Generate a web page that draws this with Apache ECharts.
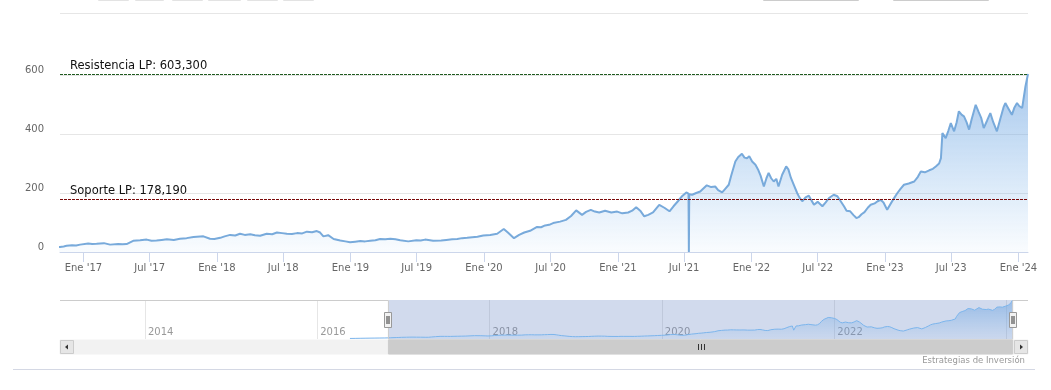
<!DOCTYPE html>
<html><head><meta charset="utf-8">
<script src="https://cdn.jsdelivr.net/npm/echarts@6/dist/echarts.min.js"></script>
<style>html,body{margin:0;padding:0;background:#fff}#c{width:1051px;height:390px}</style>
</head><body><div id="c"></div>
<script>
// ---------------- DATA ----------------
const dates = ['2016-05-19','2016-06-10','2016-07-01','2016-07-22','2016-08-12','2016-09-02','2016-09-23','2016-10-14','2016-10-29','2016-11-08','2016-11-16','2016-12-01','2016-12-12','2016-12-23',
'2017-01-14','2017-01-25','2017-02-06','2017-02-26','2017-03-15','2017-04-06','2017-04-18','2017-04-29','2017-05-17','2017-06-05','2017-06-23','2017-07-06','2017-07-20','2017-08-03','2017-08-17','2017-09-05','2017-09-22','2017-10-10','2017-10-29','2017-11-25','2017-12-13','2017-12-25',
'2018-01-10','2018-01-22','2018-02-06','2018-02-20','2018-03-05','2018-03-18','2018-04-02','2018-04-15','2018-04-29','2018-05-17','2018-06-01','2018-06-14','2018-06-28','2018-07-11','2018-07-25','2018-08-08','2018-08-22','2018-09-04','2018-09-18','2018-10-01','2018-10-10','2018-10-19','2018-11-01','2018-11-16','2018-12-04','2018-12-18','2018-12-31',
'2019-01-14','2019-01-28','2019-02-10','2019-02-24','2019-03-10','2019-03-23','2019-04-06','2019-04-20','2019-05-04','2019-05-17','2019-06-08','2019-06-30','2019-07-12','2019-07-24','2019-08-15','2019-09-06','2019-09-20','2019-10-06','2019-10-20','2019-11-02','2019-11-16','2019-11-30','2019-12-14','2019-12-30',
'2020-01-18','2020-02-06','2020-02-24','2020-03-07','2020-03-23','2020-04-06','2020-04-20','2020-05-06','2020-05-25','2020-06-05','2020-06-16','2020-06-27','2020-07-08','2020-07-27','2020-08-12','2020-08-26','2020-09-09','2020-09-25','2020-10-06','2020-10-19','2020-10-30','2020-11-11','2020-11-27','2020-12-14','2020-12-30',
'2021-01-13','2021-01-29','2021-02-09','2021-02-20','2021-03-03','2021-03-14','2021-03-25','2021-04-07','2021-04-24','2021-05-08','2021-05-22','2021-06-02','2021-06-14','2021-06-26','2021-07-07','2021-07-13','2021-07-14','2021-07-15','2021-07-23','2021-08-03','2021-08-14','2021-09-01','2021-09-13','2021-09-24','2021-10-02','2021-10-13','2021-10-22','2021-10-31','2021-11-07','2021-11-18','2021-11-26','2021-12-06','2021-12-13','2021-12-20','2021-12-26',
'2022-01-03','2022-01-12','2022-01-19','2022-01-26','2022-02-04','2022-02-11','2022-02-17','2022-02-24','2022-03-03','2022-03-10','2022-03-16','2022-03-26','2022-04-06','2022-04-12','2022-04-19','2022-04-26','2022-05-06','2022-05-12','2022-05-20','2022-05-29','2022-06-07','2022-06-14','2022-06-21','2022-07-01','2022-07-14','2022-07-23','2022-08-01','2022-08-14','2022-08-24','2022-09-02','2022-09-11','2022-09-18','2022-09-28','2022-10-07','2022-10-15','2022-10-21','2022-10-29','2022-11-06','2022-11-15','2022-11-23','2022-12-04','2022-12-12','2022-12-20','2022-12-28',
'2023-01-07','2023-01-12','2023-01-22','2023-02-04','2023-02-13','2023-02-22','2023-03-07','2023-03-22','2023-04-01','2023-04-09','2023-04-20','2023-05-02','2023-05-12','2023-05-20','2023-05-29','2023-06-03','2023-06-07','2023-06-16','2023-06-23','2023-06-30','2023-07-09','2023-07-16','2023-07-22','2023-07-30','2023-08-05','2023-08-12','2023-08-19','2023-08-26','2023-09-06','2023-09-14','2023-09-21','2023-09-28','2023-10-07','2023-10-16','2023-10-24','2023-11-03','2023-11-12','2023-11-21','2023-11-26','2023-12-05','2023-12-14','2023-12-21','2023-12-28',
'2024-01-03','2024-01-11','2024-01-20','2024-01-27'];
const values = [8,9,11,12,13,14,15,16,17,19,21,23,22,25,
29,27,28,30,25,27,26,27,38,40,42,38,39,41,43,41,45,47,51,53,45,44,
48,53,58,56,62,58,60,57,55,62,60,66,64,62,61,64,63,69,67,71,66,53,57,44,39,36,33,
35,37,36,38,40,44,43,45,43,40,36,40,39,42,38,39,41,43,44,47,48,50,52,56,
58,62,78,65,47,58,66,72,85,84,90,92,98,103,109,122,141,126,136,143,137,134,140,134,137,
131,134,140,152,140,121,126,134,160,150,138,155,172,190,202,198,0,196,194,200,205,226,220,222,210,202,215,228,260,307,322,333,320,318,325,
307,296,280,259,222,250,268,250,239,248,222,262,290,280,251,230,200,185,172,185,191,175,160,170,155,168,183,194,189,172,155,140,138,125,115,118,128,135,150,160,165,172,177,168,
143,146,175,200,215,228,232,239,255,273,270,277,282,290,300,318,403,386,410,437,409,440,477,465,460,440,415,450,499,475,455,420,445,471,440,409,450,490,505,485,465,490,505,
495,488,561,603.3];

const mainTickDates = ['2017-01-01','2017-07-01','2018-01-01','2018-07-01','2019-01-01','2019-07-01','2020-01-01','2020-07-01','2021-01-01','2021-07-01','2022-01-01','2022-07-01','2023-01-01','2023-07-01','2024-01-01'];
const mainTickLabels = ["Ene '17","Jul '17","Ene '18","Jul '18","Ene '19","Jul '19","Ene '20","Jul '20","Ene '21","Jul '21","Ene '22","Jul '22","Ene '23","Jul '23","Ene '24"];
const yTicks = [0, 200, 400, 600];
const navTickDates = ['2014-01-01','2016-01-01','2018-01-01','2020-01-01','2022-01-01','2024-01-01'];
const navTickLabels = ['2014','2016','2018','2020','2022',''];
const levelNames = ['Resistencia LP','Soporte LP'];
const levelValues = [603.3, 178.19];
const mainRange = ['2016-10-29','2024-01-27'];
const navRange = ['2013-01-06','2024-04-01'];
const creditText = 'Estrategias de Inversión';

// ---------------- CHART ----------------
function ts(s){const p=s.split('-').map(Number);return new Date(p[0],p[1]-1,p[2]).getTime();}
const FONT = 'DejaVu Sans';
const levelColors = ['#1f5a1f','#7a0a0a'];
const series = dates.map((d,i)=>[ts(d), values[i]]);
const navSeries = dates.map((d,i)=>{
  const a = values[Math.max(i-1,0)], b = values[i], c = values[Math.min(i+1,values.length-1)];
  return [ts(d), (a+b+c)/3];
});
const mainTicks = mainTickDates.map(ts);
const navTicks = navTickDates.map(ts);
const L = 60, R = 23, NAV_TOP = 300, NAV_H = 39;
const Y_MAX = 620, PX_PER = 177/600;
const MAIN_H = Y_MAX * PX_PER, MAIN_TOP = 252 - MAIN_H;

const chart = echarts.init(document.getElementById('c'), null, {renderer:'canvas'});
const areaGrad = new echarts.graphic.LinearGradient(0,0,0,1,[
  {offset:0,color:'rgba(112,165,224,0.9)'},
  {offset:1,color:'rgba(124,181,236,0.06)'}]);
const navGrad = new echarts.graphic.LinearGradient(0,0,0,1,[
  {offset:0,color:'rgba(112,165,224,0.85)'},
  {offset:1,color:'rgba(124,181,236,0.1)'}]);

chart.setOption({
  animation:false,
  textStyle:{fontFamily:FONT},
  grid:[
    {left:L, right:R, top:MAIN_TOP, height:MAIN_H},
    {left:L, right:R, top:NAV_TOP, height:NAV_H}
  ],
  xAxis:[
    {type:'value', gridIndex:0, min:ts(mainRange[0]), max:ts(mainRange[1]),
     axisLine:{show:true, lineStyle:{color:'#ccd6eb'}},
     axisTick:{show:true, length:10, customValues:mainTicks, lineStyle:{color:'#ccd6eb'}},
     axisLabel:{customValues:mainTicks, color:'#666', fontSize:10, margin:11, fontFamily:FONT,
       formatter:(v)=>{const i=mainTicks.indexOf(v);return i>=0?mainTickLabels[i]:'';}},
     splitLine:{show:false}},
    {type:'value', gridIndex:1, min:ts(navRange[0]), max:ts(navRange[1]),
     axisLine:{show:false}, axisTick:{show:false, customValues:navTicks},
     axisLabel:{customValues:navTicks, inside:true, color:'#999', fontSize:10, margin:2, align:'left', padding:[0,0,0,3], fontFamily:FONT,
       formatter:(v)=>{const i=navTicks.indexOf(v);return i>=0?navTickLabels[i]:'';}},
     splitLine:{show:true, lineStyle:{color:'#e6e6e6'}}}
  ],
  yAxis:[
    {type:'value', gridIndex:0, min:0, max:Y_MAX, interval:200,
     axisLine:{show:false}, axisTick:{show:false, customValues:yTicks},
     axisLabel:{customValues:yTicks, color:'#666', fontSize:10, margin:16, verticalAlign:'bottom', fontFamily:FONT},
     splitLine:{lineStyle:{color:'#e6e6e6'}}},
    {type:'value', gridIndex:1, min:0, max:'dataMax', show:false, splitLine:{show:false}}
  ],
  series:[
    {type:'line', xAxisIndex:0, yAxisIndex:0, data:series, showSymbol:false, symbol:'none',
     lineStyle:{color:'#78aadb', width:2}, areaStyle:{color:areaGrad}, z:3,
     markLine:{silent:true, symbol:['none','none'], animation:false,
       data: levelValues.map((v,i)=>({yAxis:v,
         lineStyle:{color:levelColors[i], type:[3,1], width:1},
         label:{show:true, position:'insideStartTop', distance:[10,2], color:'#111', fontSize:11.5, fontFamily:FONT,
           formatter: levelNames[i] + ': ' + v.toFixed(3).replace('.', ',')}}))}},
    {type:'line', xAxisIndex:1, yAxisIndex:1, data:navSeries, showSymbol:false, symbol:'none',
     lineStyle:{color:'#7cb5ec', width:1}, areaStyle:{color:navGrad},
     markArea:{silent:true, itemStyle:{color:'rgba(102,133,194,0.3)'},
       data:[[{xAxis:ts(mainRange[0])},{xAxis:ts(mainRange[1])}]]}}
  ]
});

// decorations (navigator outline, handles, scrollbar, credit)
const x0 = chart.convertToPixel({xAxisIndex:1}, ts(mainRange[0]));
const x1 = chart.convertToPixel({xAxisIndex:1}, ts(mainRange[1]));
const W = 1051, XR = W - R, NB = NAV_TOP + NAV_H;
const SB_T = NB + 1, SB_H = 14;
const g = [];
g.push({type:'line', shape:{x1:L, y1:13.5, x2:XR, y2:13.5}, style:{stroke:'#e6e6e6', lineWidth:1}, z:10});
[[98,30],[135,28],[172,30],[208,32],[247,30],[283,30]].forEach(b=>g.push({type:'rect', shape:{x:b[0]+0.5,y:-15,width:b[1],height:15.5}, style:{fill:'#f7f7f7', stroke:'#e3e3e3'}, z:10}));
[[763,95],[893,95]].forEach(b=>g.push({type:'rect', shape:{x:b[0]+0.5,y:-15,width:b[1],height:15.5}, style:{fill:'#fff', stroke:'#cccccc'}, z:10}));
g.push({type:'polyline', shape:{points:[[L,NAV_TOP+0.5],[x0,NAV_TOP+0.5],[x0,NB+0.5],[x1,NB+0.5],[x1,NAV_TOP+0.5],[XR,NAV_TOP+0.5]]}, style:{stroke:'#cccccc', fill:null, lineWidth:1}, z:10});
g.push({type:'rect', shape:{x:L, y:SB_T, width:XR-L, height:SB_H}, style:{fill:'#f2f2f2', stroke:'#f2f2f2'}, z:10});
g.push({type:'rect', shape:{x:x0, y:SB_T, width:x1-x0, height:SB_H}, style:{fill:'#cccccc', stroke:'#cccccc'}, z:11});
const cx = Math.round((x0+x1)/2)+0.5;
[-3,0,3].forEach(d=>g.push({type:'line', shape:{x1:cx+d, y1:SB_T+4, x2:cx+d, y2:SB_T+10}, style:{stroke:'#333', lineWidth:1}, z:12}));
g.push({type:'rect', shape:{x:L+0.5, y:SB_T+0.5, width:13, height:SB_H-1}, style:{fill:'#e6e6e6', stroke:'#cccccc'}, z:12});
g.push({type:'polygon', shape:{points:[[L+5,SB_T+7],[L+8,SB_T+4.5],[L+8,SB_T+9.5]]}, style:{fill:'#333'}, z:13});
g.push({type:'rect', shape:{x:XR-13.5, y:SB_T+0.5, width:13, height:SB_H-1}, style:{fill:'#e6e6e6', stroke:'#cccccc'}, z:12});
g.push({type:'polygon', shape:{points:[[XR-5,SB_T+7],[XR-8,SB_T+4.5],[XR-8,SB_T+9.5]]}, style:{fill:'#333'}, z:13});
[x0,x1].forEach(x=>{
  const hx = Math.round(x-4)+0.5;
  g.push({type:'rect', shape:{x:hx, y:312.5, width:7, height:15}, style:{fill:'#f2f2f2', stroke:'#999'}, z:14});
  g.push({type:'line', shape:{x1:hx+2.5, y1:316, x2:hx+2.5, y2:324}, style:{stroke:'#333'}, z:15});
  g.push({type:'line', shape:{x1:hx+4.5, y1:316, x2:hx+4.5, y2:324}, style:{stroke:'#333'}, z:15});
});
g.push({type:'text', x:XR-3, y:361, style:{text:creditText, fill:'#999', fontSize:8.5, fontFamily:FONT, align:'right', verticalAlign:'middle'}, z:10});
g.push({type:'line', shape:{x1:13, y1:369.5, x2:1035, y2:369.5}, style:{stroke:'#d4d8e4', lineWidth:1}, z:10});
chart.setOption({graphic:g});
</script>
</body></html>
